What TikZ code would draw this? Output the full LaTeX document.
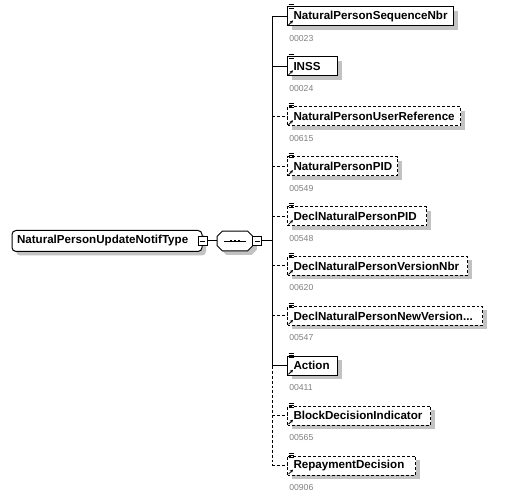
\documentclass[tikz,border=0pt]{standalone}
\usepackage{fontspec}
\setmainfont{Liberation Sans}
\usetikzlibrary{shadows,arrows.meta}

\begin{document}
\begin{tikzpicture}[x=0.75pt,y=-0.75pt,
  conn/.style={line width=0.75pt},
  opt/.style={dash pattern=on 2.2pt off 1.5pt},
  shade/.style={general shadow={fill=black!24,shadow xshift=3pt,shadow yshift=-3pt}},
  elem/.style={draw,conn,fill=white,shade,anchor=west,align=left,minimum height=14.25pt,
    inner xsep=4.5pt,inner ysep=0pt,font=\fontsize{8.7}{10}\selectfont\bfseries},
  wd/.style={text width={(#1-287)*0.75pt-9pt}},
  root/.style={draw,conn,fill=white,shade,rounded corners=3pt,align=left,minimum height=15.75pt,
    text width=135pt,inner xsep=3.75pt,inner ysep=0pt,font=\fontsize{8.7}{10}\selectfont\bfseries},
  seqbox/.style={minimum width=26.25pt,minimum height=14.25pt,inner sep=0pt},
  minus/.style={draw,fill=white,line width=0.6pt,minimum size=6.75pt,inner sep=0pt,
    path picture={\draw[line width=0.6pt] ([xshift=1.3pt]path picture bounding box.west) -- ([xshift=-1.3pt]path picture bounding box.east);}},
  num/.style={anchor=west,inner sep=0pt,text=black!50,font=\fontsize{6.5}{7}\selectfont}]
\useasboundingbox (0,0) rectangle (506,498);

% root and sequence
\node[root] (root) at (107,241) {NaturalPersonUpdateNotifType};
\node[minus] (m1) at (root.east) {};
\node[seqbox] (seq) at (235,241) {};
\draw[conn,fill=white,shade] ([xshift=3.75pt]seq.north west) -- ([xshift=-3.75pt]seq.north east)
  -- ([yshift=-3.75pt]seq.north east) -- ([yshift=3.75pt]seq.south east)
  -- ([xshift=-3.75pt]seq.south east) -- ([xshift=3.75pt]seq.south west)
  -- ([yshift=3.75pt]seq.south west) -- ([yshift=-3.75pt]seq.north west) -- cycle;
\node[minus] (m2) at ([xshift=3.4pt]seq.east) {};
\coordinate (j) at (272,241);
\draw[conn] (m1) -- (seq);
\draw[conn] (m2) -- (j);
\draw[line width=0.6pt] ([xshift=-8pt]seq.center) -- ([xshift=8pt]seq.center);
\foreach \dx in {-3,0,3}
  \fill ([xshift=\dx pt]seq.center) +(-0.85pt,-0.85pt) rectangle +(0.85pt,0.85pt);

% children
\node[elem,wd=453] (c1) at (287,16.5) {NaturalPersonSequenceNbr};
\node[elem,wd=337] (c2) at (287,66.4) {INSS};
\node[elem,opt,wd=460] (c3) at (287,116.3) {NaturalPersonUserReference};
\node[elem,opt,wd=397] (c4) at (287,166.2) {NaturalPersonPID};
\node[elem,opt,wd=426] (c5) at (287,216.1) {DeclNaturalPersonPID};
\node[elem,opt,wd=467] (c6) at (287,266) {DeclNaturalPersonVersionNbr};
\node[elem,opt,wd=482] (c7) at (287,315.9) {DeclNaturalPersonNewVersion...};
\node[elem,wd=337] (c8) at (287,365.8) {Action};
\node[elem,opt,wd=430] (c9) at (287,415.7) {BlockDecisionIndicator};
\node[elem,opt,wd=415] (c10) at (287,465.6) {RepaymentDecision};

\node[num] (n1) at ([shift={(2,22)}]c1.west) {00023};
\node[num] (n2) at ([shift={(2,22)}]c2.west) {00024};
\node[num] (n3) at ([shift={(2,22)}]c3.west) {00615};
\node[num] (n4) at ([shift={(2,22)}]c4.west) {00549};
\node[num] (n5) at ([shift={(2,22)}]c5.west) {00548};
\node[num] (n6) at ([shift={(2,22)}]c6.west) {00620};
\node[num] (n7) at ([shift={(2,22)}]c7.west) {00547};
\node[num] (n8) at ([shift={(2,22)}]c8.west) {00411};
\node[num] (n9) at ([shift={(2,22)}]c9.west) {00565};
\node[num] (n10) at ([shift={(2,22)}]c10.west) {00906};

% connectors
\foreach \i in {1,...,10}
  \coordinate (b\i) at ([xshift=-11.25pt]c\i.west);
\draw[conn] (b1) -- (b8);
\draw[conn,opt] (b8) -- (b10);
\draw[conn] (b1) -- (c1);
\draw[conn] (b2) -- (c2);
\draw[conn,opt] (b3) -- (c3);
\draw[conn,opt] (b4) -- (c4);
\draw[conn,opt] (b5) -- (c5);
\draw[conn,opt] (b6) -- (c6);
\draw[conn,opt] (b7) -- (c7);
\draw[conn] (b8) -- (c8);
\draw[conn,opt] (b9) -- (c9);
\draw[conn,opt] (b10) -- (c10);

% element icons
\foreach \i in {1,...,10} {
  \foreach \k in {-2.5,-0.5,1.5}
    \draw[line width=0.5pt] ([shift={(1.5,\k)}]c\i.north west) -- ++(5,0);
  \draw[line width=0.6pt,-{Stealth[length=2.4pt,width=2.4pt]}] ([shift={(1.5,-1.5)}]c\i.south west) -- ++(4.5,-4.5);
}
\end{tikzpicture}
\end{document}
